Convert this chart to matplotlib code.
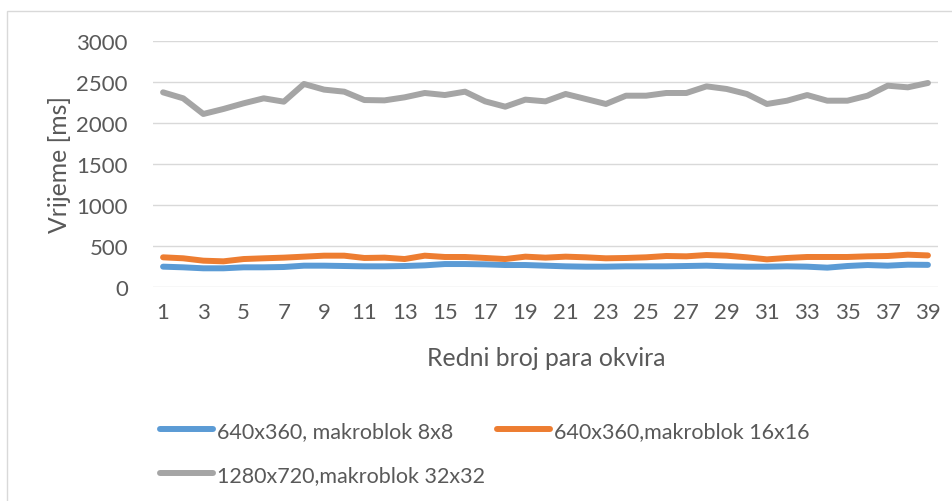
import matplotlib
matplotlib.use("Agg")
import matplotlib.pyplot as plt
from matplotlib.patches import Rectangle

plt.rcParams['font.family'] = ['Lato', 'DejaVu Sans']

frames = list(range(1, 40))

blok_8x8 = [248, 240, 228, 228, 240, 240, 244, 260, 260, 256,
            252, 252, 256, 264, 280, 280, 276, 268, 268, 260,
            252, 248, 248, 252, 252, 252, 256, 260, 252, 248,
            248, 252, 248, 236, 256, 268, 260, 272, 270]

blok_16x16 = [362, 350, 321, 313, 341, 350, 358, 370, 382, 382,
              354, 358, 341, 382, 366, 366, 354, 341, 370, 358,
              370, 362, 350, 354, 362, 378, 374, 390, 382, 362,
              337, 354, 366, 366, 366, 374, 378, 394, 385]

blok_32x32 = [2374, 2301, 2110, 2171, 2240, 2301, 2260, 2476, 2407, 2382,
              2280, 2276, 2313, 2366, 2341, 2382, 2264, 2199, 2285, 2264,
              2354, 2293, 2232, 2333, 2333, 2366, 2366, 2447, 2415, 2354,
              2232, 2272, 2341, 2272, 2272, 2333, 2455, 2435, 2488]

series_names = ["640x360, makroblok 8x8",
                "640x360,makroblok 16x16",
                "1280x720,makroblok 32x32"]
colors = ["#5B9BD5", "#ED7D31", "#A5A5A5"]

y_ticks = [0, 500, 1000, 1500, 2000, 2500, 3000]
x_tick_labels = [str(v) for v in range(1, 40, 2)]

text_col = "#595959"
W, H = 953, 502
fig = plt.figure(figsize=(W / 100, H / 100), dpi=100)

# chart frame
fig.patches.append(Rectangle((7 / W, -0.01), (W - 5) / W, (H - 12) / H + 0.01,
                             transform=fig.transFigure, fill=False,
                             edgecolor="#D9D9D9", linewidth=1.0))

ax = fig.add_axes([153 / W, 1 - 288 / H, (938 - 153) / W, (288 - 42) / H])

handles = []
for vals, name, c in zip([blok_8x8, blok_16x16, blok_32x32], series_names, colors):
    h, = ax.plot(frames, vals, color=c, linewidth=4.3, solid_capstyle='round',
                 solid_joinstyle='round', label=name)
    handles.append(h)

ax.set_xlim(0.5, 39.5)
ax.set_ylim(0, 3000)
ax.set_yticks(y_ticks)
ax.set_xticks(list(range(1, 40, 2)))
ax.set_xticklabels(x_tick_labels)
ax.grid(axis='y', color="#D9D9D9", linewidth=1.0)
ax.set_axisbelow(True)
for s in ax.spines.values():
    s.set_visible(False)
ax.tick_params(axis='both', length=0, labelsize=16, colors=text_col)
ax.tick_params(axis='y', pad=18)
ax.tick_params(axis='x', pad=11)

# axis titles
fig.text(60 / W, 1 - 165 / H, "Vrijeme [ms]", rotation=90, ha='center',
         va='center', fontsize=17.8, color=text_col)
fig.text(546 / W, 1 - 358 / H, "Redni broj para okvira", ha='center',
         va='center', fontsize=17.8, color=text_col)

order = [handles[0], handles[2], handles[1]]
leg = fig.legend(order, [h.get_label() for h in order], ncol=2,
                 loc='upper left', bbox_to_anchor=(160 / W, 1 - 422 / H),
                 frameon=False, fontsize=15.5, handlelength=2.45,
                 handletextpad=0.2, columnspacing=0.55, labelspacing=1.1,
                 borderaxespad=0, borderpad=0)
for t in leg.get_texts():
    t.set_color(text_col)

fig.savefig("out.png", dpi=100)
